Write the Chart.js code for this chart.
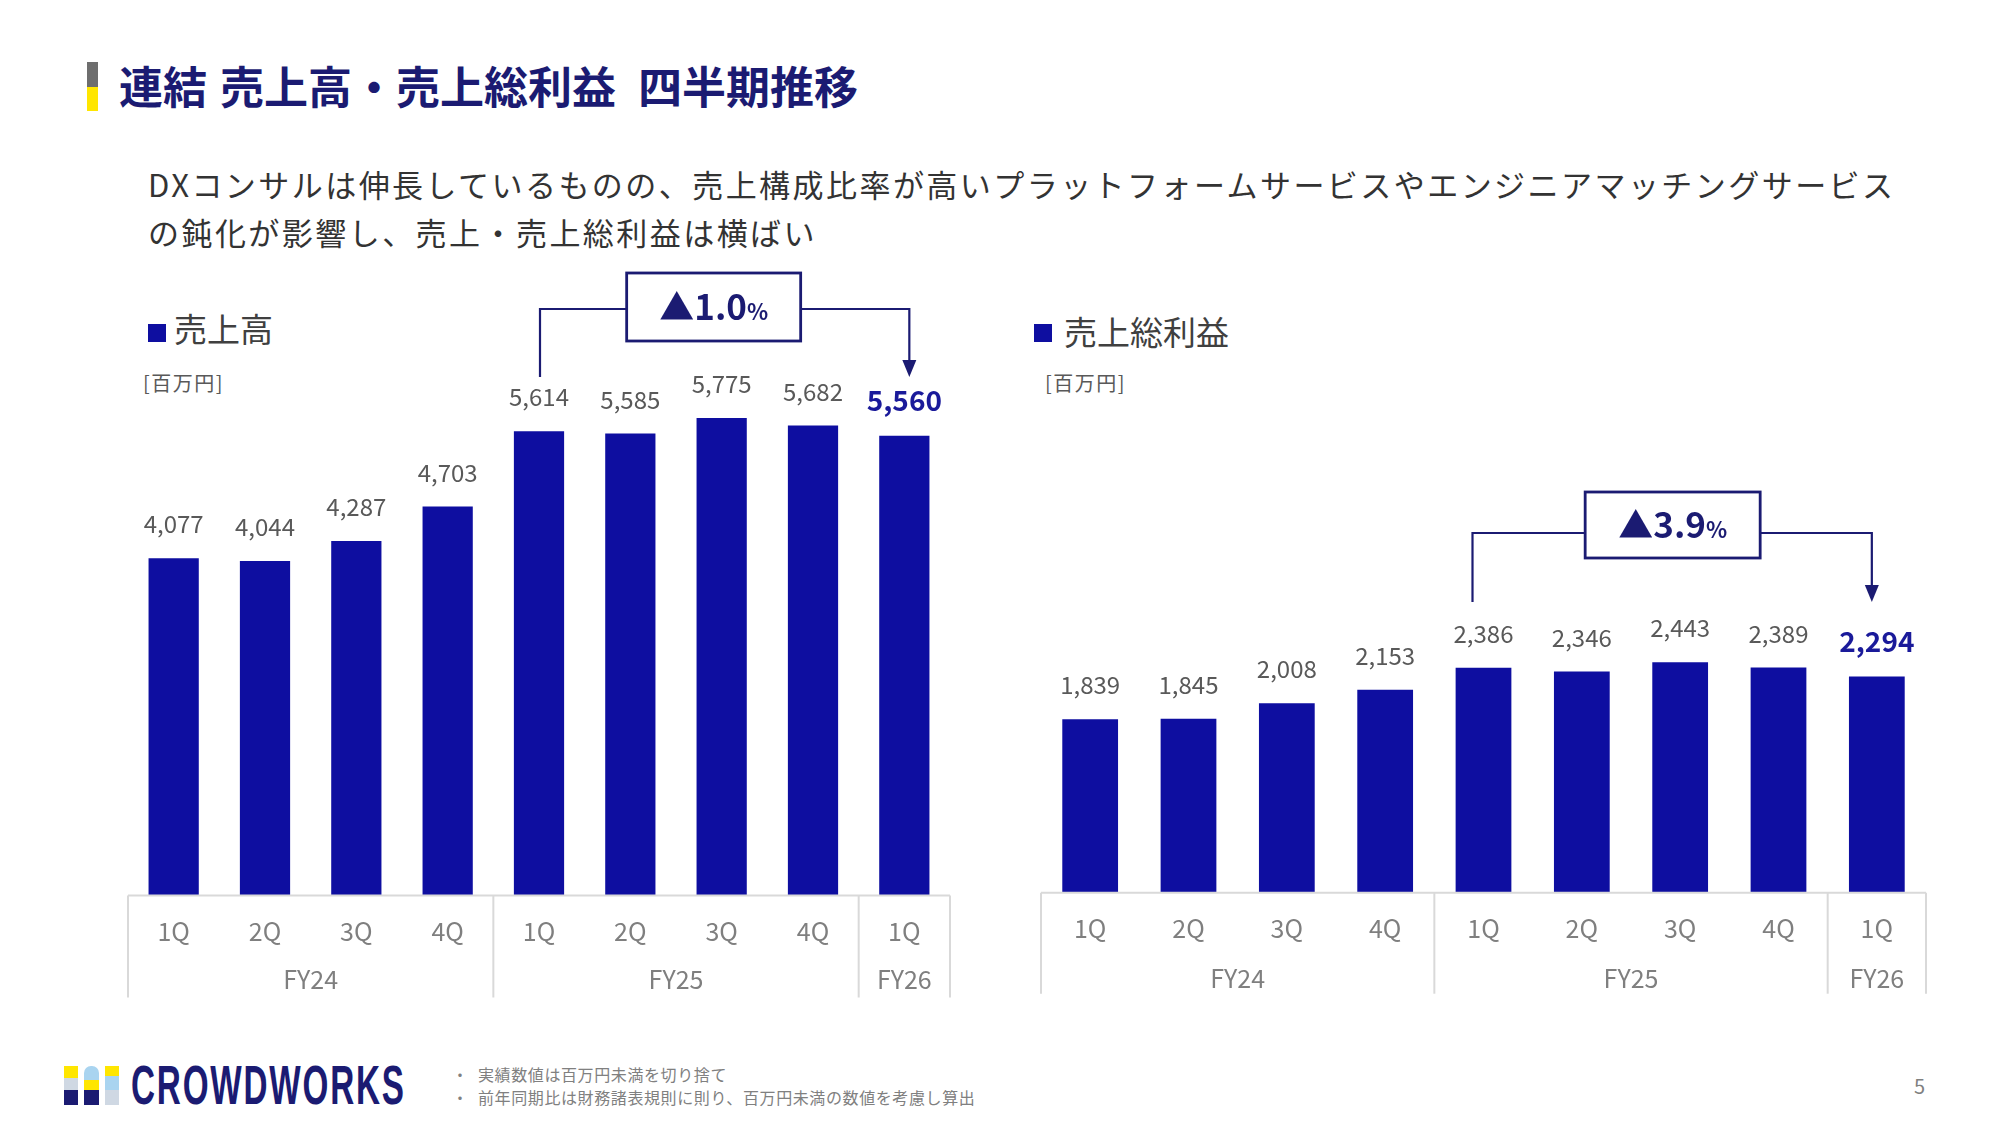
<!DOCTYPE html>
<html><head><meta charset="utf-8">
<script src="https://cdn.jsdelivr.net/npm/chart.js@4.4.1/dist/chart.umd.min.js"></script>
<style>
body{margin:0;width:2000px;height:1125px;background:#fff;position:relative;overflow:hidden;font-family:"Noto Sans CJK JP","Noto Sans",sans-serif;}
.abs{position:absolute;white-space:nowrap;line-height:1;}
canvas{position:absolute;}
</style></head><body>

<div class="abs" style="left:87px;top:62px;width:11px;height:25px;background:#6e6e6e"></div>
<div class="abs" style="left:87px;top:87px;width:11px;height:24px;background:#ffe600"></div>
<div class="abs" id="title" style="left:119px;top:62.5px;font-size:44px;font-weight:700;color:#1b1b72">連結<span style="margin-left:13px">売上高・売上総利益</span><span style="margin-left:22px">四半期推移</span></div>

<div class="abs" style="left:148px;top:167.8px;font-size:31px;letter-spacing:2.45px;color:#333">DXコンサルは伸長しているものの、売上構成比率が高いプラットフォームサービスやエンジニアマッチングサービス</div>
<div class="abs" style="left:148px;top:215.8px;font-size:31px;letter-spacing:2.45px;color:#333">の鈍化が影響し、売上・売上総利益は横ばい</div>

<div class="abs" style="left:148px;top:324px;width:18px;height:18px;background:#0e0ea0"></div>
<div class="abs" style="left:174px;top:311.6px;font-size:33px;color:#404040">売上高</div>
<div class="abs" style="left:143px;top:372.9px;font-size:20px;letter-spacing:1.5px;color:#595959">[百万円]</div>

<div class="abs" style="left:1034px;top:324px;width:18px;height:18px;background:#0e0ea0"></div>
<div class="abs" style="left:1064px;top:314.6px;font-size:33px;color:#404040">売上総利益</div>
<div class="abs" style="left:1045px;top:372.9px;font-size:20px;letter-spacing:1.5px;color:#595959">[百万円]</div>

<canvas id="salesChart" width="880" height="770" style="left:100px;top:250px"></canvas>
<canvas id="grossChart" width="950" height="770" style="left:1010px;top:250px"></canvas>

<!-- logo -->
<div class="abs" style="left:64px;top:1066px;width:14px;height:12px;background:#ffe600"></div>
<div class="abs" style="left:64px;top:1078px;width:14px;height:12px;background:#cfd8e3"></div>
<div class="abs" style="left:64px;top:1090px;width:14px;height:15px;background:#1b1b72"></div>
<div class="abs" style="left:84px;top:1066px;width:15px;height:14px;background:#a9d4f0;border-radius:7px 7px 0 0"></div>
<div class="abs" style="left:84px;top:1080px;width:15px;height:10px;background:#ffe600"></div>
<div class="abs" style="left:84px;top:1090px;width:15px;height:15px;background:#1b1b72"></div>
<div class="abs" style="left:105px;top:1066px;width:14px;height:10px;background:#ffe600"></div>
<div class="abs" style="left:105px;top:1076px;width:14px;height:14px;background:#a9d4f0"></div>
<div class="abs" style="left:105px;top:1090px;width:14px;height:15px;background:#cfd8e3"></div>
<div class="abs" id="logoText" style="left:131px;top:1058px;font-size:55px;font-weight:700;font-family:'Liberation Sans Narrow','Liberation Sans',sans-serif;color:#1b1b72;transform-origin:0 0;letter-spacing:3px">CROWDWORKS</div>

<div class="abs" style="left:452px;top:1066px;font-size:16px;color:#808080">・</div>
<div class="abs" style="left:478px;top:1066px;font-size:16px;letter-spacing:0.6px;color:#808080">実績数値は百万円未満を切り捨て</div>
<div class="abs" style="left:452px;top:1089px;font-size:16px;color:#808080">・</div>
<div class="abs" style="left:478px;top:1089px;font-size:16px;letter-spacing:0.6px;color:#808080">前年同期比は財務諸表規則に則り、百万円未満の数値を考慮し算出</div>
<div class="abs" style="left:1914px;top:1076px;font-size:20px;color:#808080">5</div>

<script>
// ---- data ----
const quarters = ['1Q','2Q','3Q','4Q','1Q','2Q','3Q','4Q','1Q'];
const fiscalYears = ['FY24','FY25','FY26'];
const fyGroupSizes = [4,4,1];
const salesValues = [4077,4044,4287,4703,5614,5585,5775,5682,5560];
const grossProfitValues = [1839,1845,2008,2153,2386,2346,2443,2389,2294];
const salesChange = '▲1.0';
const grossChange = '▲3.9';

// ---- styles ----
const FONT = '"Noto Sans CJK JP","Noto Sans",sans-serif';
const BAR = '#0e0ea0';
const NAVY = '#1b1b72';

// fit logo text width
(function(){const el=document.getElementById('logoText');const w=el.offsetWidth;el.style.transform='scaleX('+(275/w)+')';})();

function decor(cfg){
  return {
    id:'decor'+cfg.name,
    afterDatasetsDraw(chart){
      const ctx=chart.ctx, ca=chart.chartArea;
      const meta=chart.getDatasetMeta(0);
      const vals=chart.data.datasets[0].data;
      ctx.save();
      // value labels
      ctx.textAlign='center'; ctx.textBaseline='middle';
      meta.data.forEach((bar,i)=>{
        const last=i===vals.length-1;
        ctx.font=(last?'700 28px ':'400 24px ')+FONT;
        ctx.fillStyle=last?'#1a1a9a':'#595959';
        ctx.fillText(vals[i].toLocaleString('en-US'), bar.x, bar.y-(last?35:34));
      });
      // category box
      const step=(ca.right-ca.left)/quarters.length;
      const bottom=ca.bottom+cfg.boxDepth;
      ctx.strokeStyle='#d9d9d9'; ctx.lineWidth=2;
      ctx.beginPath(); ctx.moveTo(ca.left,ca.bottom); ctx.lineTo(ca.right,ca.bottom); ctx.stroke();
      let idx=0;
      const edges=[0];
      fyGroupSizes.forEach(n=>{idx+=n;edges.push(idx);});
      edges.forEach(e=>{const px=ca.left+e*step;ctx.beginPath();ctx.moveTo(px,ca.bottom);ctx.lineTo(px,bottom);ctx.stroke();});
      ctx.fillStyle='#7f7f7f'; ctx.font='400 25px '+FONT;
      fiscalYears.forEach((fy,k)=>{
        const cx=ca.left+(edges[k]+edges[k+1])/2*step;
        ctx.fillText(fy,cx,cfg.fyY);
      });
      // bracket annotation
      const a=cfg.ann;
      const x1=meta.data[a.from].x+a.fromDx, x2=meta.data[a.to].x+a.toDx;
      const bx=(meta.data[a.from].x+meta.data[a.to].x)/2+a.boxDx;
      const bl=bx-a.boxW/2, br=bx+a.boxW/2;
      ctx.strokeStyle=NAVY; ctx.lineWidth=2.2;
      ctx.beginPath(); ctx.moveTo(x1,a.bottom); ctx.lineTo(x1,a.lineY); ctx.lineTo(bl,a.lineY); ctx.stroke();
      ctx.beginPath(); ctx.moveTo(br,a.lineY); ctx.lineTo(x2,a.lineY); ctx.lineTo(x2,a.bottom-14); ctx.stroke();
      ctx.fillStyle=NAVY;
      ctx.beginPath(); ctx.moveTo(x2-7,a.bottom-17); ctx.lineTo(x2+7,a.bottom-17); ctx.lineTo(x2,a.bottom); ctx.closePath(); ctx.fill();
      ctx.lineWidth=2.8;
      ctx.strokeRect(bl,a.boxTop,a.boxW,a.boxH);
      // box text
      ctx.textAlign='left'; ctx.textBaseline='alphabetic';
      ctx.font='700 35px '+FONT; const w1=ctx.measureText(a.text).width;
      ctx.font='700 22px '+FONT; const w2=ctx.measureText('%').width;
      const sx=bx-(w1+w2)/2, base=a.boxTop+a.boxH/2+13;
      ctx.font='700 35px '+FONT; ctx.fillText(a.text,sx,base);
      ctx.font='700 22px '+FONT; ctx.fillText('%',sx+w1,base);
      ctx.restore();
    }
  };
}

function makeChart(id, values, cfg){
  return new Chart(document.getElementById(id),{
    type:'bar',
    data:{labels:quarters,datasets:[{data:values,backgroundColor:BAR,barPercentage:cfg.barPct,categoryPercentage:1}]},
    options:{
      responsive:false,animation:false,devicePixelRatio:1,
      layout:{padding:cfg.padding},
      plugins:{legend:{display:false},tooltip:{enabled:false}},
      scales:{
        x:{grid:{display:false,drawTicks:false},border:{display:false},
           ticks:{color:'#7f7f7f',font:{family:FONT,size:25},padding:21,maxRotation:0,autoSkip:false},
           afterFit:s=>{s.height=102;}},
        y:{display:false,min:0,max:cfg.max}
      }
    },
    plugins:[decor(cfg)]
  });
}

makeChart('salesChart',salesValues,{
  name:'S',max:6000,barPct:0.55,
  padding:{left:28,right:30,top:149.3,bottom:22.5},
  boxDepth:102,fyY:729,
  ann:{from:4,to:8,fromDx:1,toDx:5,boxDx:-8,boxW:174,boxH:68,boxTop:23,lineY:59,bottom:127,text:salesChange}
});
makeChart('grossChart',grossProfitValues,{
  name:'G',max:3000,barPct:0.567,
  padding:{left:31,right:34,top:359.8,bottom:25.3},
  boxDepth:101,fyY:728,
  ann:{from:4,to:8,fromDx:-11,toDx:-5,boxDx:-7.5,boxW:175,boxH:66,boxTop:242,lineY:283,bottom:352,text:grossChange}
});
</script>
</body></html>
